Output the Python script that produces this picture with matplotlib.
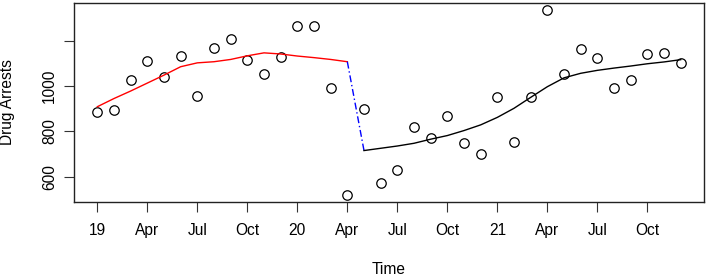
import numpy as np
import matplotlib.pyplot as plt

plt.rcParams['font.family'] = ['Liberation Sans', 'DejaVu Sans']

# monthly drug arrests, Jan 2019 - Dec 2021
start_year = 2019
arrests = [886, 893, 1025, 1110, 1040, 1132, 957, 1166, 1208, 1113, 1054, 1126,
           1265, 1265, 993, 522, 897, 574, 631, 820, 771, 870, 751, 702,
           953, 752, 950, 1333, 1054, 1164, 1122, 990, 1028, 1139, 1147, 1100]

# fitted values before and after the break (Apr 2020 / May 2020)
fit_pre = [909, 945, 978, 1013, 1048, 1085, 1102, 1107, 1117, 1133, 1146, 1141,
           1132, 1125, 1117, 1107]
fit_post = [716, 726, 736, 748, 766, 782, 804, 829, 862, 902, 950, 997,
            1036, 1056, 1069, 1079, 1088, 1098, 1106, 1116]

tick_pos = [2019, 2019.25, 2019.5, 2019.75, 2020, 2020.25, 2020.5, 2020.75,
            2021, 2021.25, 2021.5, 2021.75]
tick_labels = ['19', 'Apr', 'Jul', 'Oct', '20', 'Apr', 'Jul', 'Oct',
               '21', 'Apr', 'Jul', 'Oct']
ytick_pos = [600, 800, 1000, 1200]
ytick_labels = ['600', '800', '1000', '']

t = start_year + np.arange(len(arrests)) / 12
n_pre = len(fit_pre)
t_pre = t[:n_pre]
t_post = t[n_pre:]

fs = 11.2

fig = plt.figure(figsize=(7.08, 2.77), dpi=100)
ax = fig.add_axes([74 / 708, 75 / 277, 630 / 708, 199 / 277])

ax.plot(t, arrests, 'o', mfc='none', mec='black', ms=6.8, mew=0.9)
ax.plot(t_pre, fit_pre, color='red', lw=1)
ax.plot([t_pre[-1], t_post[0]], [fit_pre[-1], fit_post[0]], color='blue',
        lw=1, linestyle=(0, (5, 2, 1, 2)))
ax.plot(t_post, fit_post, color='black', lw=1)

# R-style 4% padding
xr = t[-1] - t[0]
ax.set_xlim(t[0] - 0.04 * xr, t[-1] + 0.04 * xr)
yr = max(arrests) - min(arrests)
ax.set_ylim(min(arrests) - 0.04 * yr, max(arrests) + 0.04 * yr)

ax.set_xticks(tick_pos)
ax.set_xticklabels(tick_labels, fontsize=fs)
ax.set_yticks(ytick_pos)
ax.set_yticklabels(ytick_labels, fontsize=fs, rotation=90, va='center')
ax.tick_params(axis='x', length=7, width=0.8, pad=8, color='#333333')
ax.tick_params(axis='y', length=7, width=0.8, pad=5, color='#333333')

for s in ax.spines.values():
    s.set_linewidth(1)
    s.set_color('#222222')

ax.set_xlabel('Time', fontsize=fs)
ax.xaxis.set_label_coords(0.5, -0.30)
ax.set_ylabel('Drug Arrests', fontsize=fs)
ax.yaxis.set_label_coords(-0.094, 0.5)

fig.savefig('out.png', dpi=100)
